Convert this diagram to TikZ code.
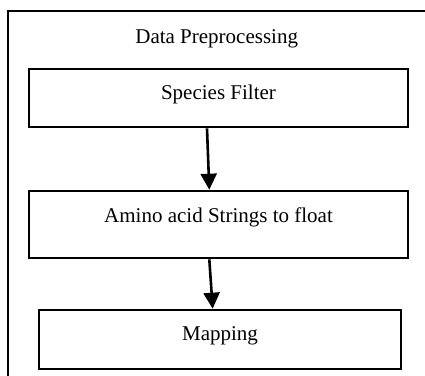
\documentclass[tikz,border=0pt]{standalone}
\usepackage{fontspec}
\setmainfont{Liberation Serif}
\usetikzlibrary{arrows.meta}
\begin{document}
\begin{tikzpicture}[x=0.5pt,y=-0.5pt,
  every node/.style={font=\fontsize{10.5}{12.6}\selectfont},
  stepbox/.style={draw=black, line width=1.3pt, rectangle, inner sep=0pt, text height=7.5pt},
  flow/.style={line width=1.3pt, -{Triangle[length=8pt,width=8pt]}}]
\useasboundingbox (0,0) rectangle (425,376);
\clip (0,0) rectangle (425,376);
\fill[white] (0,0) rectangle (425,376);
\draw[line width=0.9pt] (8.3,390) -- (8.3,11) -- (440,11);
\node[anchor=base] (title) at (216.7,43.3) {Data Preprocessing};
\node[stepbox, minimum width=189.5pt, minimum height=29pt, text depth=6.2pt] (b1) at (218.5,98) {Species Filter};
\node[stepbox, minimum width=189.5pt, minimum height=33.5pt, text depth=9.3pt] (b2) at (218.5,224.5) {Amino acid Strings to float};
\node[stepbox, minimum width=181pt, minimum height=29.5pt, text depth=6.3pt] (b3) at (220,339.5) {Mapping};
\draw[flow] ([xshift=-5.75pt]b1.south) -- ([xshift=-4.6pt]b2.north);
\draw[flow] ([xshift=-4.6pt]b2.south) -- ([xshift=-3.65pt]b3.north);
\end{tikzpicture}
\end{document}
